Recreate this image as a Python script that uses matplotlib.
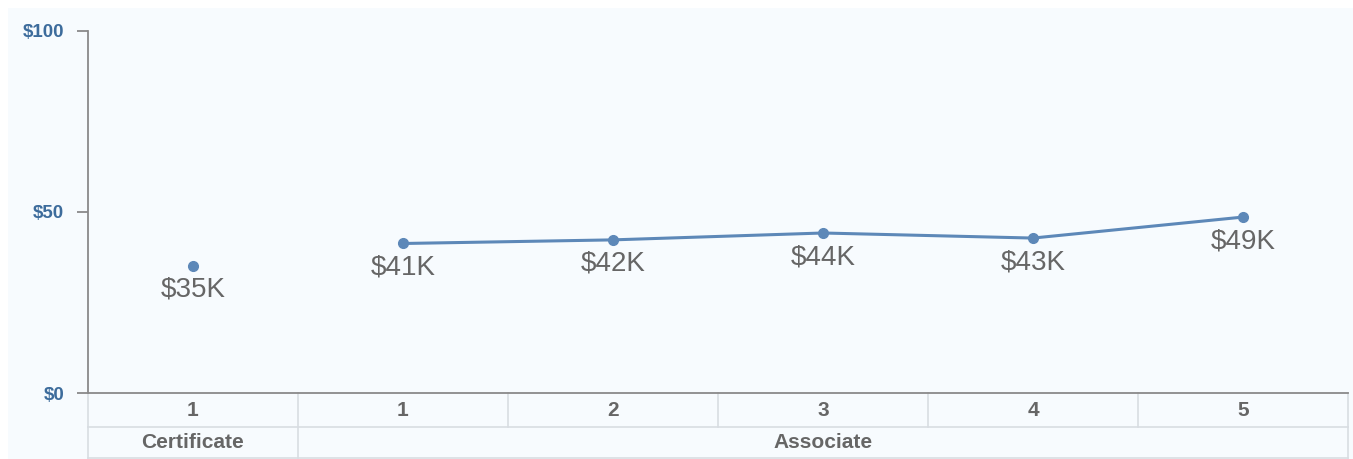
import numpy as np
import matplotlib.pyplot as plt
import matplotlib.transforms as mtransforms

# DATA
years = ['1', '1', '2', '3', '4', '5']
groups = ['Certificate', 'Associate']
group_sizes = [1, 5]
salary = [35.2, 41.3, 42.3, 44.2, 42.8, 48.6]      # $K
salary_labels = ['$35K', '$41K', '$42K', '$44K', '$43K', '$49K']
yticks = [0, 50, 100]
ytick_labels = ['$0', '$50', '$100']

# STYLE
W, H = 1353, 459
bg = '#f7fbfe'
line_col = '#5d88b8'
tick_col = '#3d6c9c'
grid_col = '#d8dde2'
txt_col = '#666666'

plt.rcParams['font.family'] = ['Liberation Sans', 'DejaVu Sans']

fig = plt.figure(figsize=(W / 100, H / 100), dpi=100)
fig.patch.set_facecolor('white')
# light panel behind everything
fig.patches.append(plt.Rectangle((8 / W, 0), 1 - 8 / W, 1 - 8 / H, transform=fig.transFigure,
                                 facecolor=bg, edgecolor='none', zorder=-10))

x0, x1, ytop, ybot = 88, 1348, 31, 393
ax = fig.add_axes([x0 / W, 1 - ybot / H, (x1 - x0) / W, (ybot - ytop) / H])
ax.set_zorder(5)
ax.set_facecolor('none')
ax.set_xlim(0, len(years))
ax.set_ylim(0, 100)
for s in ['top', 'right']:
    ax.spines[s].set_visible(False)
ax.spines['left'].set_color('#8a8a8a')
ax.spines['bottom'].set_color('#8a8a8a')
ax.spines['left'].set_linewidth(1.3)
ax.spines['bottom'].set_linewidth(1.3)
ax.set_xticks([])
ax.set_yticks(yticks)
ax.set_yticklabels(ytick_labels, fontsize=13.5, fontweight='bold', color=tick_col)
ax.tick_params(axis='y', length=8, width=1.3, color='#8a8a8a', pad=9)

xs = np.arange(len(years)) + 0.5
# certificate point alone, associate points joined
ax.plot(xs[:1], salary[:1], 'o', color=line_col, ms=7, clip_on=False)
ax.plot(xs[1:], salary[1:], '-o', color=line_col, lw=2.2, ms=7, clip_on=False)
for x, y, lab in zip(xs, salary, salary_labels):
    ax.annotate(lab, (x, y), xytext=(0, -8), textcoords='offset points',
                ha='center', va='top', fontsize=20, color=txt_col)

# table under the axis
tr = mtransforms.blended_transform_factory(ax.transData, ax.transAxes)
ph = ybot - ytop
r1 = -34 / ph
r2 = -65 / ph
ax.plot([0, len(years)], [r1, r1], color=grid_col, lw=1.2, transform=tr, clip_on=False)
ax.plot([0, len(years)], [r2, r2], color=grid_col, lw=1.2, transform=tr, clip_on=False)
for k in range(len(years) + 1):
    ax.plot([k, k], [0, r1], color=grid_col, lw=1.2, transform=tr, clip_on=False)
edges = np.concatenate([[0], np.cumsum(group_sizes)])
for e in edges:
    ax.plot([e, e], [r1, r2], color=grid_col, lw=1.2, transform=tr, clip_on=False)
for x, lab in zip(xs, years):
    ax.text(x, r1 / 2, lab, transform=tr, ha='center', va='center',
            fontsize=15, fontweight='bold', color=txt_col)
for a, b, g in zip(edges[:-1], edges[1:], groups):
    ax.text((a + b) / 2, (r1 + r2) / 2, g, transform=tr, ha='center', va='center',
            fontsize=15, fontweight='bold', color=txt_col)

fig.savefig('out.png', dpi=100, facecolor=fig.get_facecolor())
